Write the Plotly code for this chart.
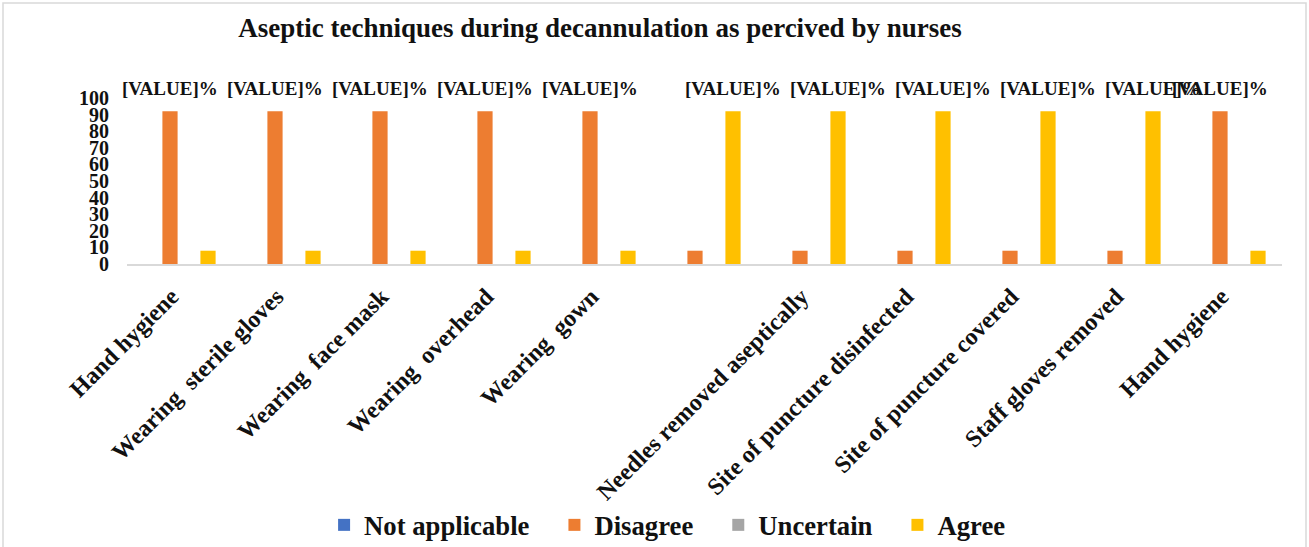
import plotly.graph_objects as go

categories = ["Hand hygiene", "Wearing\u00a0 sterile gloves", "Wearing\u00a0 face mask",
              "Wearing\u00a0 overhead", "Wearing\u00a0 gown", " ",
              "Needles removed aseptically", "Site of puncture disinfected",
              "Site of puncture covered", "Staff gloves removed", "Hand hygiene"]
not_applicable = [0, 0, 0, 0, 0, 0, 0, 0, 0, 0, 0]
disagree = [92, 92, 92, 92, 92, 8, 8, 8, 8, 8, 92]
uncertain = [0, 0, 0, 0, 0, 0, 0, 0, 0, 0, 0]
agree = [8, 8, 8, 8, 8, 92, 92, 92, 92, 92, 8]
y_ticks = [0, 10, 20, 30, 40, 50, 60, 70, 80, 90, 100]

series = [("Not applicable", not_applicable, "#4472C4"),
          ("Disagree", disagree, "#ED7D31"),
          ("Uncertain", uncertain, "#A5A5A5"),
          ("Agree", agree, "#FFC000")]

FONT = "Liberation Serif"
W, H = 1309, 547
ML, MR, MT, MB = 127, 27, 98, 283
PW, PH = W - ML - MR, H - MT - MB

x = list(range(len(categories)))
fig = go.Figure()
pad = "\u00a0" * 3
for name, vals, color in series:
    fig.add_trace(go.Bar(x=x, y=vals, name="<b>%s</b>%s" % (name, pad),
                         marker=dict(color=color, line=dict(width=0)), cliponaxis=False))

bargap = 0.276
slot = (1 - bargap) / len(series)
annotations = []
for i in x:
    vals = [s[1][i] for s in series]
    k = max(range(len(series)), key=lambda j: vals[j])
    xpos = i - (1 - bargap) / 2 + slot * (k + 0.5)
    annotations.append(dict(x=xpos, y=vals[k], xref="x", yref="y", text="<b>[VALUE]%</b>",
                            showarrow=False, yanchor="bottom", yshift=10,
                            font=dict(family=FONT, size=19, color="#111")))

fig.update_layout(
    width=W, height=H,
    margin=dict(l=ML, r=MR, t=MT, b=MB, autoexpand=False),
    paper_bgcolor="white", plot_bgcolor="white",
    barmode="group", bargap=bargap, bargroupgap=0.2,
    title=dict(text="<b>Aseptic techniques during decannulation as percived by nurses</b>",
               x=600 / W, xanchor="center", y=1 - 28 / H, yanchor="middle",
               font=dict(family=FONT, size=27, color="#111")),
    xaxis=dict(tickvals=x, ticktext=["<b>%s</b>" % c for c in categories], tickangle=-45,
               range=[-0.5, len(categories) - 0.5], showgrid=False, zeroline=False,
               showline=True, linecolor="#d9d9d9", linewidth=2, ticks="", automargin=False,
               ticklabelshift=-8, ticklabelstandoff=7,
               tickfont=dict(family=FONT, size=24, color="#111")),
    yaxis=dict(range=[0, 100], tickvals=y_ticks, ticktext=["<b>%d</b>" % v for v in y_ticks],
               showgrid=False, zeroline=False, showline=False, ticks="", automargin=False,
               ticklabelstandoff=17,
               tickfont=dict(family=FONT, size=20, color="#111")),
    legend=dict(orientation="h", x=624 / W, xref="paper", xanchor="center",
                y=(MT + PH - 525) / PH, yanchor="middle", itemwidth=30,
                font=dict(family=FONT, size=26.7, color="#111"), itemsizing="constant"),
    annotations=annotations,
    shapes=[dict(type="rect", xref="paper", yref="paper",
                 x0=(3 - ML) / PW, x1=(1306 - ML) / PW,
                 y0=(MT + PH - 560) / PH, y1=(MT + PH - 3) / PH,
                 line=dict(color="#d9d9d9", width=1.5), fillcolor="rgba(0,0,0,0)", layer="below")],
)

fig.write_html("out.html", config={"displayModeBar": False},
               post_script="document.body.style.margin='0';document.body.style.overflow='hidden';")
